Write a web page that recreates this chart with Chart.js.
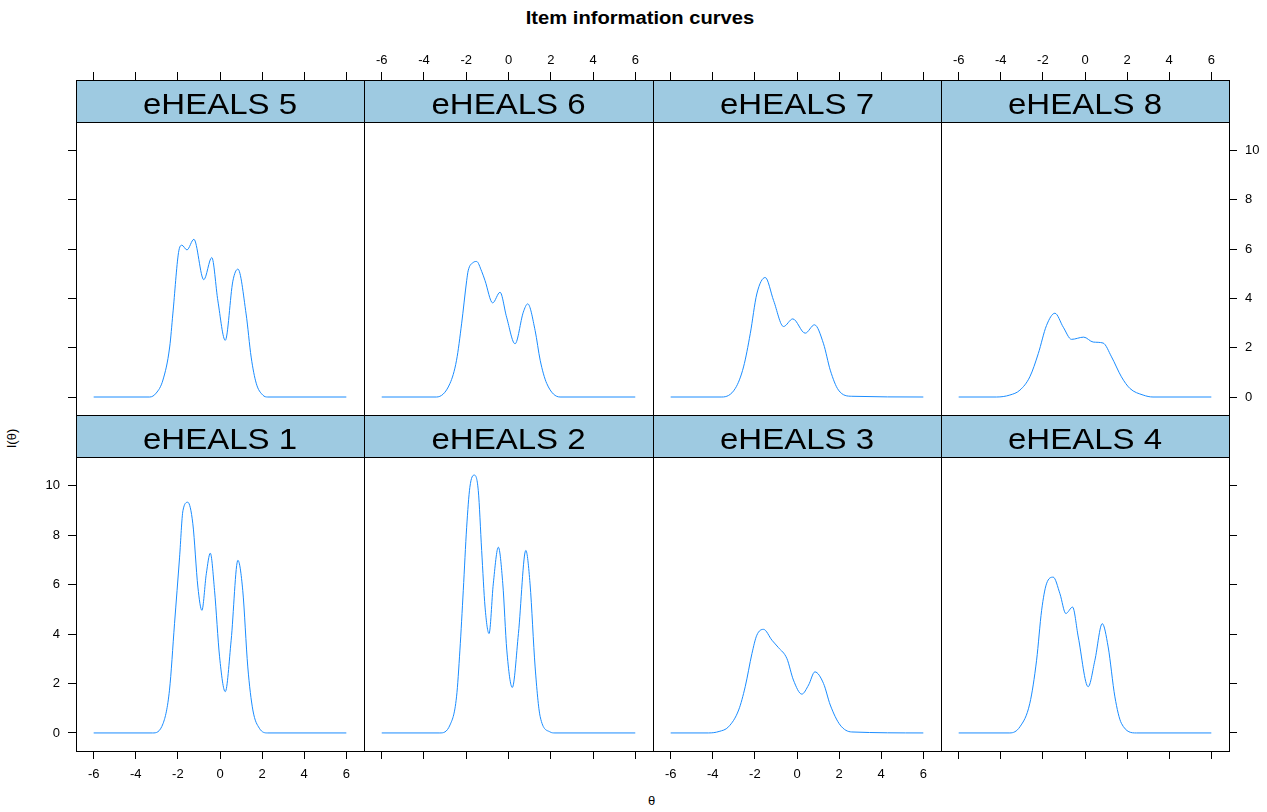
<!DOCTYPE html>
<html>
<head>
<meta charset="utf-8">
<title>Item information curves</title>
<script src="https://cdn.jsdelivr.net/npm/chart.js@4.4.1/dist/chart.umd.min.js"></script>
<style>
  body { margin: 0; background: #fff; font-family: "Liberation Sans", Arial, sans-serif; }
  #page { position: relative; width: 1267px; height: 812px; overflow: hidden; }
  #page canvas { position: absolute; }
  .txt { position: absolute; color: #000; white-space: nowrap; }
  #title { left: 440px; width: 400px; top: 8px; text-align: center; font-weight: bold; font-size: 18px; transform: scaleX(1.12); }
  #ylab { left: 2px; top: 431px; font-size: 13px; transform: rotate(-90deg); }
  #xlab { left: 648px; top: 793px; font-size: 13px; }
</style>
</head>
<body>
<div id="page">
  <div id="title" class="txt">Item information curves</div>
  <div id="ylab" class="txt">I(θ)</div>
  <div id="xlab" class="txt">θ</div>
</div>
<script>
// ---- data (theta, information) ----
const xTicks = [-6, -4, -2, 0, 2, 4, 6];
const yTicks = [0, 2, 4, 6, 8, 10];

const theta1 = [-6, -3.2, -2.7, -2.4, -2.16, -1.92, -1.76, -1.53, -1.29, -1.05, -0.86, -0.65, -0.46, -0.26, -0.02, 0.25, 0.53, 0.85, 1.08, 1.32, 1.56, 1.87, 2.27, 6];
const info1  = [0, 0, 0.39, 1.73, 4.42, 7.11, 8.99, 9.33, 8.46, 5.90, 4.96, 6.44, 7.27, 5.77, 3.08, 1.67, 3.75, 6.98, 5.77, 2.67, 0.93, 0.19, 0, 0];

const theta2 = [-6, -3.25, -2.77, -2.46, -2.30, -2.14, -1.98, -1.83, -1.62, -1.43, -1.27, -1.11, -0.92, -0.72, -0.48, -0.27, -0.08, 0.18, 0.47, 0.82, 1.02, 1.26, 1.50, 1.97, 2.2, 6];
const info2  = [0, 0, 0.32, 1.46, 3.35, 5.77, 8.32, 9.93, 10.43, 9.80, 7.38, 5.09, 4.02, 6.03, 7.51, 6.03, 3.35, 1.84, 4.02, 7.38, 6.03, 2.67, 0.66, 0.04, 0, 0];

const theta3 = [-6, -4.2, -3.7, -3.25, -2.77, -2.46, -2.14, -1.91, -1.59, -1.19, -0.88, -0.48, -0.17, 0.23, 0.55, 0.85, 1.26, 1.58, 2.05, 2.6, 6];
const info3  = [0, 0, 0.06, 0.25, 0.93, 1.87, 3.21, 3.95, 4.19, 3.75, 3.45, 3.01, 2.14, 1.57, 1.94, 2.47, 2.00, 1.13, 0.32, 0.04, 0];

const theta4 = [-6, -3.57, -3.09, -2.62, -2.30, -2.06, -1.83, -1.51, -1.19, -0.91, -0.59, -0.32, 0.15, 0.47, 0.82, 1.10, 1.42, 1.73, 2.44, 6];
const info4  = [0, 0, 0.25, 1.20, 2.94, 4.96, 6.03, 6.30, 5.63, 4.83, 5.09, 3.88, 1.87, 2.94, 4.42, 3.48, 1.46, 0.39, 0, 0];

const theta5 = [-6, -3.34, -3.03, -2.71, -2.39, -2.24, -1.97, -1.81, -1.57, -1.24, -0.77, -0.39, -0.10, 0.25, 0.61, 0.85, 1.24, 1.48, 1.72, 2.03, 2.27, 6];
const info5  = [0, 0, 0.16, 0.69, 2.03, 3.37, 5.86, 6.16, 5.97, 6.40, 4.76, 5.66, 3.90, 2.30, 4.70, 5.19, 3.37, 1.62, 0.56, 0.08, 0, 0];

const theta6 = [-6, -3.41, -2.77, -2.46, -2.22, -1.98, -1.91, -1.67, -1.51, -1.27, -1.11, -0.75, -0.40, -0.09, 0.31, 0.70, 0.91, 1.26, 1.50, 1.81, 2.44, 6];
const info6  = [0, 0, 0.55, 1.49, 2.97, 4.72, 5.12, 5.46, 5.50, 5.10, 4.72, 3.82, 4.25, 3.24, 2.16, 3.44, 3.78, 2.70, 1.49, 0.55, 0, 0];

const theta7 = [-6, -3.57, -2.93, -2.54, -2.22, -1.91, -1.51, -1.11, -0.64, -0.20, 0.39, 0.83, 1.26, 1.58, 1.97, 2.60, 6];
const info7  = [0, 0, 0.35, 1.22, 2.57, 4.18, 4.85, 3.91, 2.86, 3.17, 2.59, 2.93, 2.16, 1.09, 0.28, 0.03, 0];

const theta8 = [-6, -4.2, -3.57, -3.09, -2.62, -2.22, -1.83, -1.43, -1.03, -0.64, -0.06, 0.39, 0.86, 1.26, 1.73, 2.13, 2.76, 3.23, 6];
const info8  = [0, 0, 0.08, 0.28, 0.82, 1.76, 2.90, 3.40, 2.83, 2.34, 2.43, 2.23, 2.19, 1.63, 0.82, 0.35, 0.08, 0, 0];

// panels in lattice order: top row 5..8, bottom row 1..4
const panelNames = ['eHEALS 5', 'eHEALS 6', 'eHEALS 7', 'eHEALS 8', 'eHEALS 1', 'eHEALS 2', 'eHEALS 3', 'eHEALS 4'];
const panelTheta = [theta5, theta6, theta7, theta8, theta1, theta2, theta3, theta4];
const panelInfo  = [info5, info6, info7, info8, info1, info2, info3, info4];

// ---- layout ----
const X_LOW = -6.84, X_HIGH = 6.84;
const Y_LOW = -0.73, Y_HIGH = 11.16;
const colEdges = [76, 364, 653, 941, 1229];
const rowTops = [80, 415];
const rowHeights = [335, 336];
const STRIP_H = 42;
const PAD = 70;
const TICK_FONT = { family: '"Liberation Sans", Arial, sans-serif', size: 13 };

function stripPlugin(name) {
    // strip with the item name, drawn inside the top of the chart area
    return {
        id: 'strip',
        beforeDraw(chart) {
            const ctx = chart.ctx;
            const a = chart.chartArea;
            const yb = Math.round(chart.scales.y.getPixelForValue(Y_HIGH));
            ctx.save();
            ctx.fillStyle = '#9ECAE1';
            ctx.fillRect(a.left, a.top, a.right - a.left, yb - a.top);
            ctx.strokeStyle = '#000';
            ctx.lineWidth = 1;
            ctx.beginPath();
            ctx.moveTo(a.left, yb + 0.5);
            ctx.lineTo(a.right, yb + 0.5);
            ctx.stroke();
            ctx.fillStyle = '#000';
            ctx.font = '30px "Liberation Sans", Arial, sans-serif';
            ctx.textAlign = 'center';
            ctx.textBaseline = 'alphabetic';
            ctx.translate((a.left + a.right) / 2, yb - 8);
            ctx.scale(1.1, 1);
            ctx.fillText(name, 0, 0);
            ctx.restore();
        }
    };
}

function xAxis(pos, marks, labels) {
    return {
        type: 'linear', position: pos, min: X_LOW, max: X_HIGH,
        afterBuildTicks: s => { s.ticks = xTicks.map(v => ({ value: v })); },
        afterFit: s => { s.height = PAD; },
        grid: { display: marks, drawOnChartArea: false, tickLength: 8, color: '#000', lineWidth: 1 },
        border: { display: true, color: '#000', width: 1 },
        ticks: { display: labels, font: TICK_FONT, color: '#000', padding: pos === 'top' ? 4 : 8, maxRotation: 0, autoSkip: false }
    };
}

function yAxis(pos, marks, labels, yTop) {
    return {
        type: 'linear', position: pos, min: Y_LOW, max: yTop,
        afterBuildTicks: s => { s.ticks = yTicks.map(v => ({ value: v })); },
        afterFit: s => { s.width = PAD; },
        grid: { display: marks, drawOnChartArea: false, tickLength: 8, color: '#000', lineWidth: 1 },
        border: { display: true, color: '#000', width: 1 },
        ticks: { display: labels, font: TICK_FONT, color: '#000', padding: 8, autoSkip: false }
    };
}

function drawPanel(k) {
    const row = Math.floor(k / 4);
    const col = k % 4;
    const w = colEdges[col + 1] - colEdges[col];
    const h = rowHeights[row];
    const plotH = h - STRIP_H;
    const yTop = Y_HIGH + STRIP_H * (Y_HIGH - Y_LOW) / plotH;

    const canvas = document.createElement('canvas');
    canvas.width = w + 2 * PAD;
    canvas.height = h + 2 * PAD;
    canvas.style.left = (colEdges[col] - PAD) + 'px';
    canvas.style.top = (rowTops[row] - PAD) + 'px';
    document.getElementById('page').appendChild(canvas);

    const puntos = panelTheta[k].map((t, i) => ({ x: t, y: panelInfo[k][i] }));
    const top = row === 0, bottom = row === 1;
    const oddCol = col % 2 === 1;

    new Chart(canvas, {
        type: 'line',
        data: {
            datasets: [{
                data: puntos,
                borderColor: '#1A8CFF',
                borderWidth: 1,
                pointRadius: 0,
                fill: false,
                cubicInterpolationMode: 'monotone',
                xAxisID: 'x', yAxisID: 'y'
            }]
        },
        options: {
            responsive: false,
            animation: false,
            events: [],
            layout: { padding: 0 },
            plugins: { legend: { display: false }, tooltip: { enabled: false }, title: { display: false } },
            scales: {
                x: xAxis('bottom', bottom, bottom && !oddCol),
                x2: xAxis('top', top, top && oddCol),
                y: yAxis('left', col === 0, col === 0 && bottom, yTop),
                y2: yAxis('right', col === 3, col === 3 && top, yTop)
            }
        },
        plugins: [stripPlugin(panelNames[k])]
    });
}

for (let k = 0; k < panelNames.length; k++) {
    drawPanel(k);
}
</script>
</body>
</html>
